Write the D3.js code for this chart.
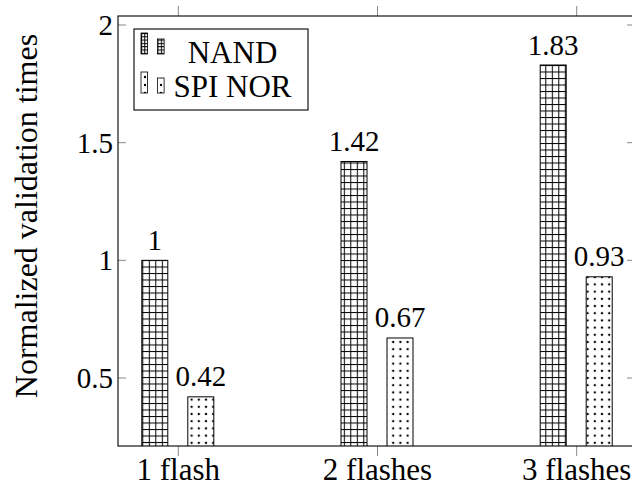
<!DOCTYPE html>
<html>
<head>
<meta charset="utf-8">
<script src="https://cdn.jsdelivr.net/npm/d3@7"></script>
<style>
  html, body { margin: 0; padding: 0; background: #fff; }
  svg { display: block; }
</style>
</head>
<body>
<svg id="chart" width="632" height="495"></svg>
<script>
const categories = ["1 flash", "2 flashes", "3 flashes"];
const series = ["NAND", "SPI NOR"];
const nandValues = [1, 1.42, 1.83];
const norValues = [0.42, 0.67, 0.93];
const valueLabels = [["1", "1.42", "1.83"], ["0.42", "0.67", "0.93"]];
const yTicks = [0.5, 1, 1.5, 2];
const yTickLabels = ["0.5", "1", "1.5", "2"];
const yLabel = "Normalized validation times";

const svg = d3.select("#chart");
const L = 118, R = 635, T = 16, B = 446;
const FF = "Liberation Serif";
const FS_NUM = 29, FS_TXT = 31, FS_YLAB = 32;

const y = d3.scaleLinear().domain([0.5, 2]).range([378, 25]);
const x = d3.scalePoint().domain(categories).range([178.3, 576.7]);
const xs = d3.scaleBand().domain(series).range([-36.5, 35.5]).paddingInner(20 / 46);

const defs = svg.append("defs");
function gridPattern(id, s, ox) {
  const p = defs.append("pattern").attr("id", id).attr("patternUnits", "userSpaceOnUse")
    .attr("width", s).attr("height", s).attr("x", ox).attr("y", 0);
  p.append("rect").attr("width", s).attr("height", s).attr("fill", "#fff");
  p.append("line").attr("x1", 0.5).attr("x2", 0.5).attr("y1", 0).attr("y2", s).attr("stroke", "#000").attr("stroke-width", 1);
  p.append("line").attr("x1", 0).attr("x2", s).attr("y1", 0.5).attr("y2", 0.5).attr("stroke", "#000").attr("stroke-width", 1);
}
function dotPattern(id, s, ox, oy) {
  const p = defs.append("pattern").attr("id", id).attr("patternUnits", "userSpaceOnUse")
    .attr("width", s).attr("height", s).attr("x", ox).attr("y", oy);
  p.append("rect").attr("width", s).attr("height", s).attr("fill", "#fff");
  p.append("circle").attr("cx", s / 2).attr("cy", s / 2).attr("r", 1.2).attr("fill", "#000");
}
gridPattern("grid", 6.5, 142.3);
dotPattern("dots", 7.2, 188, 0);
gridPattern("gridL", 3.3, 141);
dotPattern("dotsL", 8, 141, 1);

const fills = {"NAND": "url(#grid)", "SPI NOR": "url(#dots)"};
const legendFills = {"NAND": "url(#gridL)", "SPI NOR": "url(#dotsL)"};
const seriesData = [nandValues, norValues];

defs.append("clipPath").attr("id", "plotclip").append("rect")
  .attr("x", L).attr("y", T).attr("width", R - L).attr("height", B - T);

const plot = svg.append("g").attr("clip-path", "url(#plotclip)");

series.forEach((s, si) => {
  plot.selectAll(null).data(categories).enter().append("rect")
    .attr("x", (c) => x(c) + xs(s))
    .attr("width", xs.bandwidth())
    .attr("y", (c, i) => y(seriesData[si][i]))
    .attr("height", (c, i) => B + 2 - y(seriesData[si][i]))
    .attr("fill", fills[s])
    .attr("stroke", "#000")
    .attr("stroke-width", 1);
});

const tickColor = "#888";
yTicks.forEach((t) => {
  svg.append("line").attr("x1", L).attr("x2", L + 8).attr("y1", y(t)).attr("y2", y(t))
    .attr("stroke", tickColor).attr("stroke-width", 1);
  svg.append("line").attr("x1", R - 8).attr("x2", R).attr("y1", y(t)).attr("y2", y(t))
    .attr("stroke", tickColor).attr("stroke-width", 1);
});
categories.forEach((c) => {
  svg.append("line").attr("x1", x(c)).attr("x2", x(c)).attr("y1", B).attr("y2", B + 10)
    .attr("stroke", tickColor).attr("stroke-width", 1);
  svg.append("line").attr("x1", x(c)).attr("x2", x(c)).attr("y1", T).attr("y2", T - 10)
    .attr("stroke", tickColor).attr("stroke-width", 1);
});

svg.append("rect").attr("x", L).attr("y", T).attr("width", R - L).attr("height", B - T)
  .attr("fill", "none").attr("stroke", "#000").attr("stroke-width", 1.1);

function txt(sel, fs) {
  return sel.attr("font-family", FF).attr("font-size", fs).attr("fill", "#000");
}

yTicks.forEach((t, i) => {
  txt(svg.append("text"), FS_NUM).attr("x", 113).attr("y", y(t)).attr("dy", "0.35em")
    .attr("text-anchor", "end").text(yTickLabels[i]);
});

categories.forEach((c) => {
  txt(svg.append("text"), FS_TXT).attr("x", x(c)).attr("y", 480)
    .attr("text-anchor", "middle").text(c);
});

series.forEach((s, si) => {
  categories.forEach((c, i) => {
    txt(svg.append("text"), FS_NUM).attr("x", x(c) + xs(s) + xs.bandwidth() / 2)
      .attr("y", y(seriesData[si][i]) - 10.5)
      .attr("text-anchor", "middle").text(valueLabels[si][i]);
  });
});

txt(svg.append("text"), FS_YLAB).attr("transform", "translate(37,216) rotate(-90)")
  .attr("text-anchor", "middle").text(yLabel);

const lg = svg.append("g");
lg.append("rect").attr("x", 134).attr("y", 29).attr("width", 174).attr("height", 81)
  .attr("fill", "#fff").attr("stroke", "#000").attr("stroke-width", 1.1);
const rows = [{s: "NAND", base: 63, sw: 54}, {s: "SPI NOR", base: 97, sw: 93}];
rows.forEach((r) => {
  lg.append("rect").attr("x", 141).attr("y", r.sw - 21).attr("width", 6.6).attr("height", 21)
    .attr("fill", legendFills[r.s]).attr("stroke", "#000").attr("stroke-width", 0.8);
  lg.append("rect").attr("x", 157.5).attr("y", r.sw - 15).attr("width", 6.6).attr("height", 15)
    .attr("fill", legendFills[r.s]).attr("stroke", "#000").attr("stroke-width", 0.8);
  txt(lg.append("text"), FS_TXT).attr("x", 232.5).attr("y", r.base)
    .attr("text-anchor", "middle").text(r.s);
});
</script>
</body>
</html>
